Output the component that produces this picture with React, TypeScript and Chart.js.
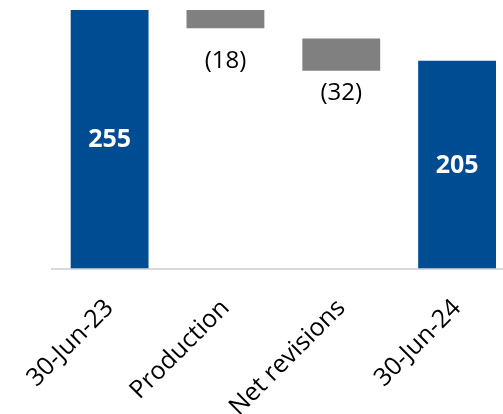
import React, { useEffect, useRef } from "react";
import { Chart, registerables } from "chart.js";

Chart.register(...registerables);

const categories = ["30-Jun-23", "Production", "Net revisions", "30-Jun-24"];
const barStart = [0, 237, 195, 0];
const barEnd = [255, 255, 227, 205];
const valueLabels = ["255", "(18)", "(32)", "205"];
const isTotal = [true, false, false, true];

const BLUE = "#004C93";
const GREY = "#808080";
const FONT = "'Open Sans', 'Noto Sans', sans-serif";
// label placement: inside (centre) for totals, below for changes (pixel offsets)
const belowOffsets = [0, 33, 22, 0];

const labelPlugin = {
  id: "wfLabels",
  afterDatasetsDraw(chart: any) {
    const ctx = chart.ctx;
    const meta = chart.getDatasetMeta(0);
    ctx.save();
    ctx.textAlign = "center";
    ctx.textBaseline = "middle";
    meta.data.forEach((bar: any, i: number) => {
      const p = bar.getProps(["x", "y", "base"], true);
      const top = Math.min(p.y, p.base);
      const bottom = Math.max(p.y, p.base);
      if (isTotal[i]) {
        ctx.font = `bold 25px ${FONT}`;
        ctx.fillStyle = "#ffffff";
        ctx.fillText(valueLabels[i], p.x, (top + bottom) / 2 + 1);
      } else {
        ctx.font = `24px ${FONT}`;
        ctx.fillStyle = "#000000";
        ctx.fillText(valueLabels[i], p.x, bottom + belowOffsets[i]);
      }
    });
    ctx.restore();
  },
};

export default function App() {
  const ref = useRef<HTMLCanvasElement>(null);
  useEffect(() => {
    if (!ref.current) return;
    const chart = new Chart(ref.current, {
      type: "bar",
      data: {
        labels: categories,
        datasets: [
          {
            data: categories.map((_, i) => [barStart[i], barEnd[i]]) as any,
            backgroundColor: categories.map((_, i) => (isTotal[i] ? BLUE : GREY)),
            borderWidth: 0,
            barPercentage: 0.672,
            categoryPercentage: 1,
          },
        ],
      },
      options: {
        animation: false,
        responsive: false,
        maintainAspectRatio: false,
        layout: { padding: { left: 51, top: 10, right: 0, bottom: 0 } },
        plugins: { legend: { display: false }, tooltip: { enabled: false } },
        scales: {
          y: { display: false, min: 0, max: 255 },
          x: {
            grid: { display: false, drawTicks: false },
            border: { display: true, color: "#d9d9d9", width: 2 },
            ticks: {
              minRotation: 45,
              maxRotation: 45,
              color: "#000000",
              padding: 25,
              font: { family: FONT, size: 25 },
            },
            afterFit: (scale: any) => {
              scale.height = 145.5;
            },
          },
        },
      },
      plugins: [labelPlugin],
    });
    return () => chart.destroy();
  }, []);
  return (
    <div style={{ position: "fixed", left: 0, top: 0, width: 503, height: 414, overflow: "hidden", background: "#fff" }}>
      <canvas ref={ref} width={515} height={414} style={{ display: "block", width: 515, height: 414 }} />
    </div>
  );
}
